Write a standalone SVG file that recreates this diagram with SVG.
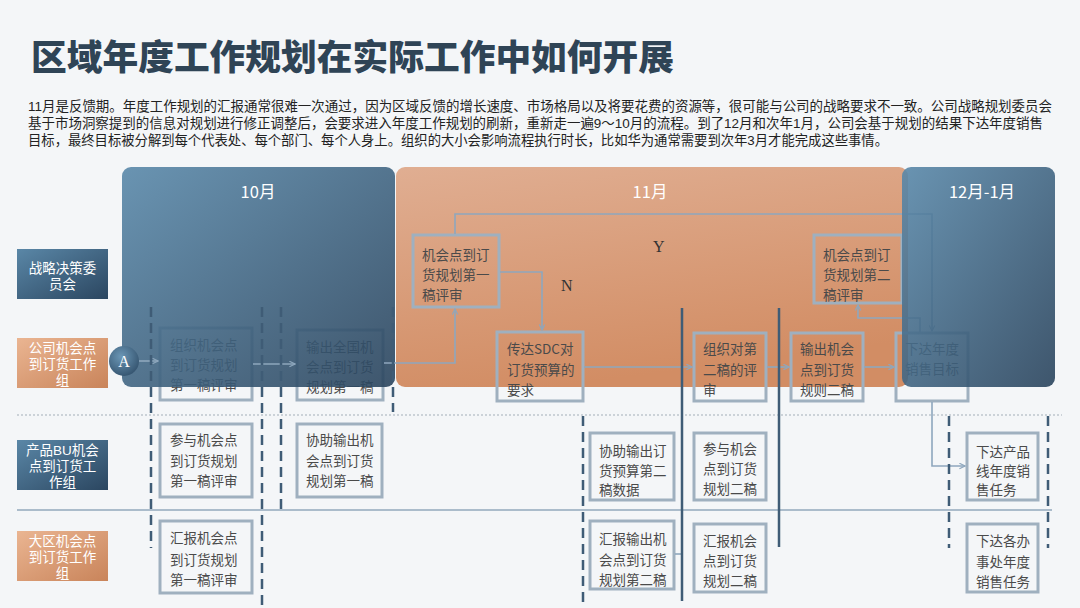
<svg xmlns="http://www.w3.org/2000/svg" width="1080" height="608" viewBox="0 0 1080 608">
<defs>
<linearGradient id="gBlue" x1="0" y1="0" x2="1" y2="1">
<stop offset="0" stop-color="#5a89aa"/>
<stop offset="1" stop-color="#2a445d"/>
</linearGradient>
<linearGradient id="gOrange" x1="0" y1="0" x2="0.3" y2="1">
<stop offset="0" stop-color="#e0ae92"/>
<stop offset="1" stop-color="#d28d64"/>
</linearGradient>
<linearGradient id="gLblBlue" x1="0" y1="0" x2="1" y2="1">
<stop offset="0" stop-color="#5a87a7"/>
<stop offset="1" stop-color="#2b4660"/>
</linearGradient>
<linearGradient id="gLblOrange" x1="0" y1="0" x2="1" y2="1">
<stop offset="0" stop-color="#eab592"/>
<stop offset="1" stop-color="#c9845a"/>
</linearGradient>
<radialGradient id="gCircle" cx="0.4" cy="0.35" r="0.7">
<stop offset="0" stop-color="#6b97b6"/>
<stop offset="1" stop-color="#34536e"/>
</radialGradient>
<marker id="arr" viewBox="0 0 10 10" refX="9" refY="5" markerWidth="7" markerHeight="7" orient="auto" markerUnits="userSpaceOnUse">
<path d="M1,1 L9,5 L1,9" fill="none" stroke="#8ea7bd" stroke-width="1.6"/>
</marker>
<style>
.title{font-family:"Noto Sans CJK SC","Liberation Sans",sans-serif;font-weight:900;font-size:35.5px;fill:#2f4456}
.para{font-family:"Liberation Sans","Noto Sans CJK SC",sans-serif;font-size:13.4px;fill:#222}
.lbl{font-family:"Liberation Sans","Noto Sans CJK SC",sans-serif;font-size:13.5px;fill:#fff;text-anchor:middle}
.month{font-family:"Noto Sans CJK SC","Liberation Sans",sans-serif;font-size:16.5px;fill:#fff;text-anchor:middle}
.box{fill:none;stroke:#9fb0bf;stroke-width:3}
.bt{font-family:"Noto Sans CJK SC","Liberation Sans",sans-serif;font-size:13.5px;fill:#4a4a4a}
.con{fill:none;stroke:#8ea7bd;stroke-width:1.6}
.dash{stroke:#3f5c76;stroke-width:2.5;stroke-dasharray:10,6;fill:none}
.solid{stroke:#3f5c76;stroke-width:2.5;fill:none}
.yn{font-family:"Liberation Serif",serif;font-size:16px;fill:#333}
</style>
</defs>
<rect width="1080" height="608" fill="#f4f6f8"/>
<text class="title" x="31" y="70" textLength="643" lengthAdjust="spacingAndGlyphs">区域年度工作规划在实际工作中如何开展</text>
<text class="para" x="28" y="111" textLength="1024" lengthAdjust="spacingAndGlyphs">11月是反馈期。年度工作规划的汇报通常很难一次通过，因为区域反馈的增长速度、市场格局以及将要花费的资源等，很可能与公司的战略要求不一致。公司战略规划委员会</text>
<text class="para" x="28" y="128" textLength="1015" lengthAdjust="spacingAndGlyphs">基于市场洞察提到的信息对规划进行修正调整后，会要求进入年度工作规划的刷新，重新走一遍9～10月的流程。到了12月和次年1月，公司会基于规划的结果下达年度销售</text>
<text class="para" x="28" y="145" textLength="860" lengthAdjust="spacingAndGlyphs">目标，最终目标被分解到每个代表处、每个部门、每个人身上。组织的大小会影响流程执行时长，比如华为通常需要到次年3月才能完成这些事情。</text>

<g id="lanes">
<line x1="17" y1="415" x2="1062" y2="415" stroke="#a3aeb8" stroke-width="1" stroke-dasharray="2,2"/>
<line x1="17" y1="510" x2="1052" y2="510" stroke="#93a9bd" stroke-width="1.3"/>
</g>

<g id="panel-11">
<rect x="396" y="167" width="512" height="220" rx="9" fill="url(#gOrange)"/>
</g>

<g id="lane-strategy"><rect x="17" y="249" width="91" height="50" fill="url(#gLblBlue)"/><text class="lbl" x="62.5" y="273">战略决策委<tspan x="62.5" dy="16">员会</tspan></text></g>
<g id="lane-company"><rect x="17" y="338" width="91" height="50" fill="url(#gLblOrange)"/><text class="lbl" x="62.5" y="353">公司机会点<tspan x="62.5" dy="16">到订货工作</tspan><tspan x="62.5" dy="16">组</tspan></text></g>
<g id="lane-bu"><rect x="17" y="440" width="91" height="50" fill="url(#gLblBlue)"/><text class="lbl" x="62.5" y="455">产品BU机会<tspan x="62.5" dy="16">点到订货工</tspan><tspan x="62.5" dy="16">作组</tspan></text></g>
<g id="lane-region"><rect x="17" y="531" width="91" height="50" fill="url(#gLblOrange)"/><text class="lbl" x="62.5" y="546">大区机会点<tspan x="62.5" dy="16">到订货工作</tspan><tspan x="62.5" dy="16">组</tspan></text></g>

<g id="B1"><rect class="box" x="160" y="328" width="92" height="72"/><text class="bt" x="170" y="350">组织机会点</text><text class="bt" x="170" y="370">到订货规划</text><text class="bt" x="170" y="390">第一稿评审</text></g>
<g id="B2"><rect class="box" x="297" y="330" width="86" height="70"/><text class="bt" x="306" y="352">输出全国机</text><text class="bt" x="306" y="372">会点到订货</text><text class="bt" x="306" y="392">规划第一稿</text></g>
<g id="S1"><rect class="box" x="413" y="235" width="86" height="72"/><text class="bt" x="422" y="260">机会点到订</text><text class="bt" x="422" y="280">货规划第一</text><text class="bt" x="422" y="300">稿评审</text></g>
<g id="B3"><rect class="box" x="497" y="332" width="86" height="69"/><text class="bt" x="507" y="354">传达SDC对</text><text class="bt" x="507" y="375">订货预算的</text><text class="bt" x="507" y="395">要求</text></g>
<g id="S2"><rect class="box" x="814" y="235" width="88" height="68"/><text class="bt" x="823" y="260">机会点到订</text><text class="bt" x="823" y="280">货规划第二</text><text class="bt" x="823" y="300">稿评审</text></g>
<g id="B4"><rect class="box" x="694" y="333" width="72" height="68"/><text class="bt" x="703" y="354">组织对第</text><text class="bt" x="703" y="375">二稿的评</text><text class="bt" x="703" y="395">审</text></g>
<g id="B5"><rect class="box" x="791" y="333" width="72" height="68"/><text class="bt" x="800" y="354">输出机会</text><text class="bt" x="800" y="375">点到订货</text><text class="bt" x="800" y="395">规则二稿</text></g>
<g id="B6"><rect class="box" x="896" y="333" width="72" height="68"/><text class="bt" x="905" y="354">下达年度</text><text class="bt" x="905" y="374">销售目标</text></g>

<g id="P1"><rect class="box" x="160" y="424" width="92" height="73"/><text class="bt" x="170" y="445">参与机会点</text><text class="bt" x="170" y="466">到订货规划</text><text class="bt" x="170" y="486">第一稿评审</text></g>
<g id="P2"><rect class="box" x="297" y="424" width="85" height="73"/><text class="bt" x="306" y="445">协助输出机</text><text class="bt" x="306" y="466">会点到订货</text><text class="bt" x="306" y="486">规划第一稿</text></g>
<g id="P3"><rect class="box" x="590" y="433" width="84" height="67"/><text class="bt" x="599" y="456">协助输出订</text><text class="bt" x="599" y="476">货预算第二</text><text class="bt" x="599" y="495">稿数据</text></g>
<g id="P4"><rect class="box" x="694" y="433" width="72" height="67"/><text class="bt" x="703" y="454">参与机会</text><text class="bt" x="703" y="474">点到订货</text><text class="bt" x="703" y="494">规划二稿</text></g>
<g id="P5"><rect class="box" x="967" y="433" width="71" height="67"/><text class="bt" x="976" y="457">下达产品</text><text class="bt" x="976" y="476">线年度销</text><text class="bt" x="976" y="495">售任务</text></g>

<g id="R1"><rect class="box" x="160" y="521" width="92" height="72"/><text class="bt" x="170" y="543">汇报机会点</text><text class="bt" x="170" y="565">到订货规划</text><text class="bt" x="170" y="585">第一稿评审</text></g>
<g id="R2"><rect class="box" x="590" y="521" width="84" height="68"/><text class="bt" x="599" y="544">汇报输出机</text><text class="bt" x="599" y="565">会点到订货</text><text class="bt" x="599" y="585">规划第二稿</text></g>
<g id="R3"><rect class="box" x="694" y="524" width="72" height="68"/><text class="bt" x="703" y="546">汇报机会</text><text class="bt" x="703" y="566">点到订货</text><text class="bt" x="703" y="586">规划二稿</text></g>
<g id="R4"><rect class="box" x="967" y="524" width="71" height="68"/><text class="bt" x="976" y="546">下达各办</text><text class="bt" x="976" y="567">事处年度</text><text class="bt" x="976" y="587">销售任务</text></g>

<g id="connectors">
<path class="con" d="M920,332 V318 H858 V305" marker-end="url(#arr)"/>
<path class="con" d="M455,234 V214 H932 V331" marker-end="url(#arr)"/>
<line class="con" x1="864" y1="367" x2="894" y2="367" marker-end="url(#arr)"/>
</g>

<g id="panel-10">
<rect x="122" y="167" width="273" height="220" rx="9" fill="url(#gBlue)" opacity="0.9"/>
</g>
<g id="panel-12">
<rect x="902" y="167" width="153" height="220" rx="9" fill="url(#gBlue)" opacity="0.9"/>
</g>

<g id="connectors-top">
<line class="con" x1="139" y1="361" x2="158" y2="361" marker-end="url(#arr)"/>
<line class="con" x1="253" y1="364" x2="295" y2="364" marker-end="url(#arr)"/>
<path class="con" d="M384,363 H455 V309" marker-end="url(#arr)"/>
<path class="con" d="M500,272 H542 V330" marker-end="url(#arr)"/>
<line class="con" x1="584" y1="367" x2="692" y2="367" marker-end="url(#arr)"/>
<line class="con" x1="767" y1="367" x2="789" y2="367" marker-end="url(#arr)"/>
<path class="con" d="M932,402 V466 H965" marker-end="url(#arr)"/>
<line class="con" x1="675" y1="554" x2="682" y2="554"/>
<line class="dash" x1="151" y1="307" x2="151" y2="548"/>
<line class="dash" x1="262" y1="307" x2="262" y2="606"/>
<line class="dash" x1="281" y1="307" x2="281" y2="510"/>
<line class="dash" x1="393" y1="307" x2="393" y2="412"/>
<line class="dash" x1="583" y1="416" x2="583" y2="606"/>
<line class="dash" x1="949" y1="416" x2="949" y2="548"/>
<line class="dash" x1="1048" y1="416" x2="1048" y2="548"/>
<line class="solid" x1="682" y1="308" x2="682" y2="601"/>
<line class="solid" x1="779" y1="308" x2="779" y2="547"/>
</g>

<g id="A">
<circle cx="124" cy="361" r="15" fill="url(#gCircle)"/>
<text x="124" y="367" font-family="Liberation Serif, serif" font-size="16" fill="#fff" text-anchor="middle">A</text>
</g>
<text class="yn" x="653" y="252">Y</text>
<text class="yn" x="561" y="291">N</text>
<text class="month" x="258" y="198">10月</text>
<text class="month" x="650" y="198">11月</text>
<text class="month" x="982" y="198">12月-1月</text>
</svg>
